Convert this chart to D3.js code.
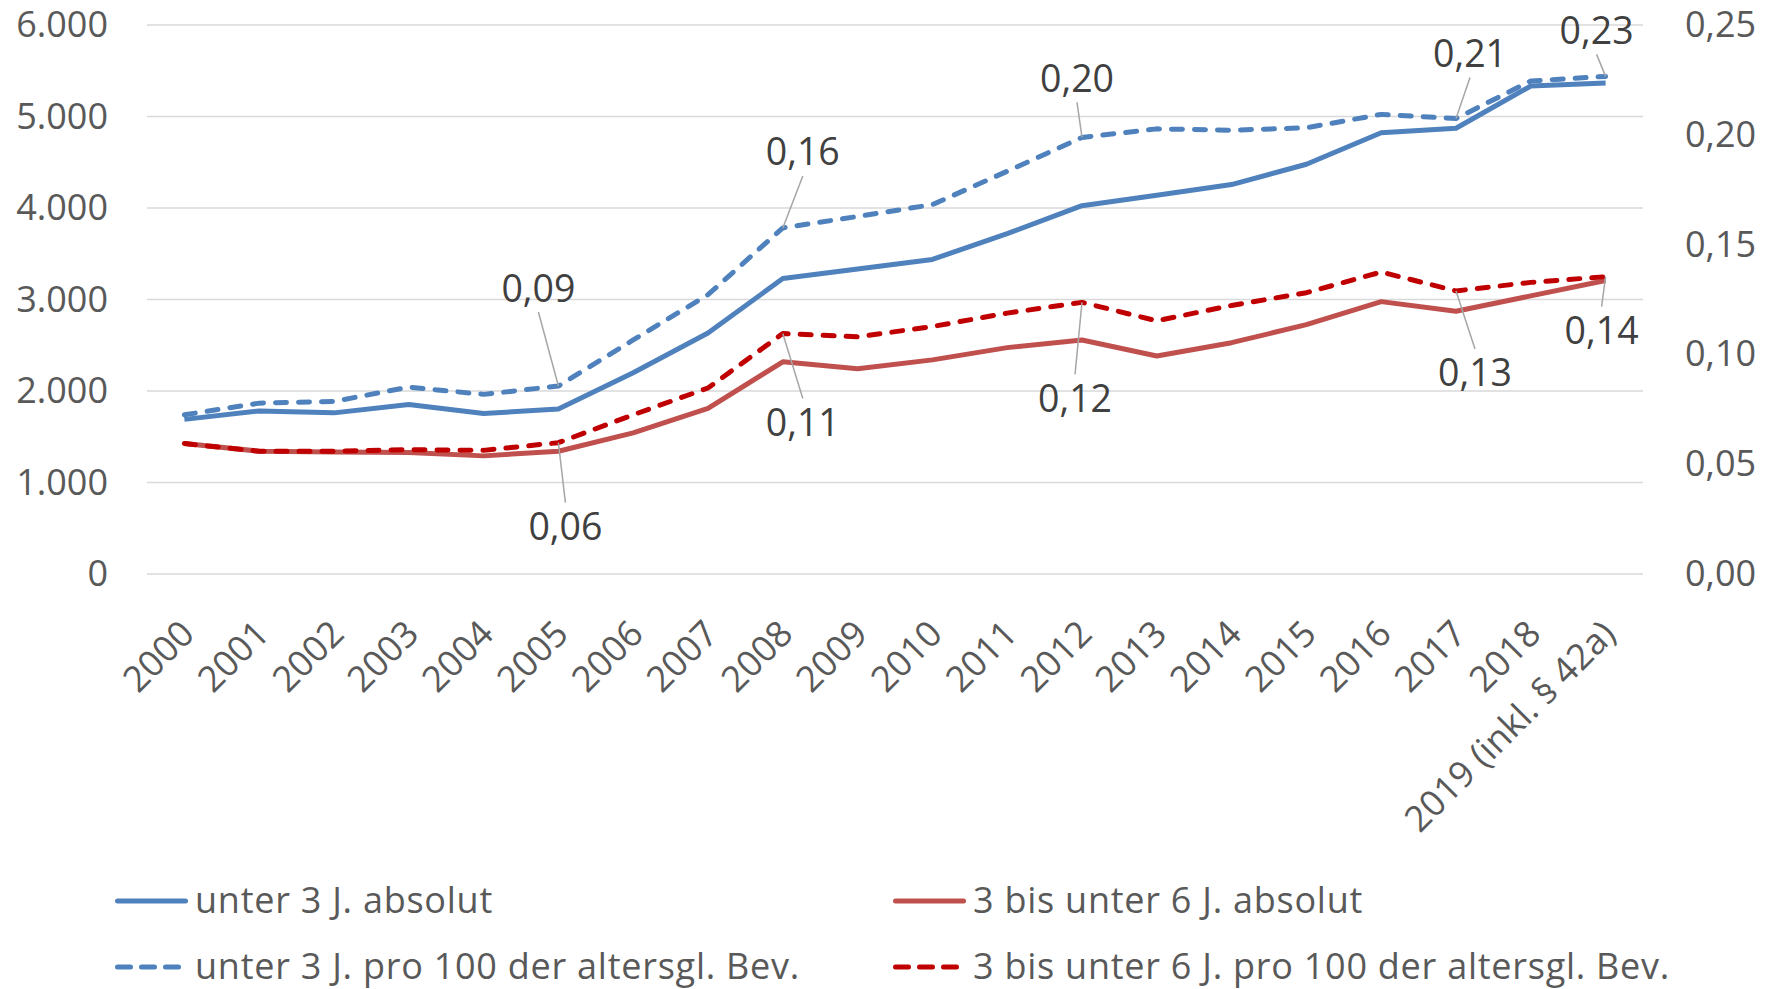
<!DOCTYPE html>
<html>
<head>
<meta charset="utf-8">
<script src="https://cdn.jsdelivr.net/npm/d3@7"></script>
<style>
  body { margin: 0; background: #fff; }
  svg { display: block; font-family: "Open Sans", sans-serif; }
</style>
</head>
<body>
<div id="chart"></div>
<script>
// categories
const years = ["2000", "2001", "2002", "2003", "2004", "2005", "2006", "2007", "2008", "2009",
  "2010", "2011", "2012", "2013", "2014", "2015", "2016", "2017", "2018", "2019 (inkl. § 42a)"];

// absolute counts (left axis)
const under3Abs = [1690, 1782, 1761, 1853, 1753, 1803, 2200, 2633, 3229, 3333,
  3438, 3720, 4025, 4140, 4256, 4478, 4822, 4872, 5333, 5367];
const age3to6Abs = [1426, 1342, 1333, 1329, 1291, 1342, 1543, 1811, 2319, 2243,
  2340, 2474, 2558, 2382, 2528, 2725, 2977, 2872, 3040, 3208];

// per 100 of same-age population (right axis)
const under3Rate = [0.0725, 0.0778, 0.0786, 0.0851, 0.0818, 0.0856, 0.1066, 0.1272, 0.1576, 0.1628,
  0.1682, 0.1834, 0.1988, 0.2027, 0.2021, 0.2032, 0.2093, 0.2074, 0.2245, 0.2266];
const age3to6Rate = [0.0594, 0.0559, 0.0559, 0.0566, 0.0563, 0.0598, 0.0725, 0.0847, 0.1095, 0.1080,
  0.1127, 0.1188, 0.1237, 0.1153, 0.1223, 0.1281, 0.1375, 0.1289, 0.1328, 0.1354];

const leftTicks = [0, 1000, 2000, 3000, 4000, 5000, 6000];
const rightTicks = [0, 0.05, 0.1, 0.15, 0.2, 0.25];

const width = 1777;
const height = 989;
const plot = { left: 147, right: 1643, top: 25, bottom: 574 };

const svg = d3.select("#chart")
  .append("svg")
  .attr("width", width)
  .attr("height", height);

const x = d3.scaleBand().domain(years).range([plot.left, plot.right]);
const xc = (i) => x(years[i]) + x.bandwidth() / 2;
const yLeft = d3.scaleLinear().domain([0, 6000]).range([plot.bottom, plot.top]);
const yRight = d3.scaleLinear().domain([0, 0.25]).range([plot.bottom, plot.top]);

// gridlines
svg.append("g")
  .selectAll("line")
  .data(leftTicks)
  .join("line")
  .attr("x1", plot.left)
  .attr("x2", plot.right)
  .attr("y1", (d) => yLeft(d))
  .attr("y2", (d) => yLeft(d))
  .attr("stroke", "#d9d9d9")
  .attr("stroke-width", 1.5);

// left axis
const leftAxis = svg.append("g")
  .attr("transform", `translate(${plot.left},0)`)
  .call(d3.axisLeft(yLeft).tickValues(leftTicks).tickSize(0).tickPadding(39)
    .tickFormat((d) => d3.format(",")(d).replace(/,/g, ".")));
leftAxis.select(".domain").remove();
leftAxis.selectAll("text")
  .attr("font-size", 36)
  .attr("font-family", "Open Sans")
  .attr("fill", "#595959");

// right axis
const rightAxis = svg.append("g")
  .attr("transform", `translate(${plot.right},0)`)
  .call(d3.axisRight(yRight).tickValues(rightTicks).tickSize(0).tickPadding(42)
    .tickFormat((d) => d3.format(".2f")(d).replace(".", ",")));
rightAxis.select(".domain").remove();
rightAxis.selectAll("text")
  .attr("font-size", 36)
  .attr("font-family", "Open Sans")
  .attr("fill", "#595959");

// x axis labels, rotated
svg.append("g")
  .selectAll("text")
  .data(years)
  .join("text")
  .attr("transform", (d, i) => `translate(${xc(i) + 12},${plot.bottom + 62}) rotate(-45)`)
  .attr("text-anchor", "end")
  .attr("font-size", 36)
  .attr("fill", "#595959")
  .text((d) => d);

// series
const series = [
  { name: "unter 3 J. absolut", values: under3Abs, y: yLeft, color: "#4f81bd", dash: null },
  { name: "3 bis unter 6 J. absolut", values: age3to6Abs, y: yLeft, color: "#c0504d", dash: null },
  { name: "unter 3 J. pro 100 der altersgl. Bev.", values: under3Rate, y: yRight, color: "#4f81bd", dash: "11 12" },
  { name: "3 bis unter 6 J. pro 100 der altersgl. Bev.", values: age3to6Rate, y: yRight, color: "#c00000", dash: "11 12" },
];

svg.append("g")
  .selectAll("path")
  .data(series)
  .join("path")
  .attr("fill", "none")
  .attr("stroke", (d) => d.color)
  .attr("stroke-width", 5)
  .attr("stroke-linecap", (d) => (d.dash ? "round" : "butt"))
  .attr("stroke-linejoin", "round")
  .attr("stroke-dasharray", (d) => d.dash)
  .attr("d", (d) => d3.line().x((v, i) => xc(i)).y((v) => d.y(v))(d.values));

// data labels with leader lines (offsets are label placement only)
const annotations = [
  { s: 2, i: 5, dx: -20, dy: -98 },
  { s: 3, i: 5, dx: 7, dy: 84 },
  { s: 2, i: 8, dx: 20, dy: -76 },
  { s: 3, i: 8, dx: 20, dy: 89 },
  { s: 2, i: 12, dx: -5, dy: -59 },
  { s: 3, i: 12, dx: -7, dy: 96 },
  { s: 2, i: 17, dx: 14, dy: -65 },
  { s: 3, i: 17, dx: 19, dy: 82 },
  { s: 2, i: 19, dx: -9, dy: -46 },
  { s: 3, i: 19, dx: -4, dy: 54 },
];

const ann = svg.append("g");
annotations.forEach((a) => {
  const s = series[a.s];
  const px = xc(a.i);
  const py = s.y(s.values[a.i]);
  const lx = px + a.dx;
  const ly = py + a.dy;
  const edge = a.dy < 0 ? ly + 24 : ly - 24;
  ann.append("line")
    .attr("x1", px)
    .attr("y1", py)
    .attr("x2", lx)
    .attr("y2", edge)
    .attr("stroke", "#a6a6a6")
    .attr("stroke-width", 1.5);
  ann.append("text")
    .attr("x", lx)
    .attr("y", ly)
    .attr("dy", "0.36em")
    .attr("text-anchor", "middle")
    .attr("font-size", 37.5)
    .attr("fill", "#404040")
    .text(d3.format(".2f")(s.values[a.i]).replace(".", ","));
});

// legend
const legendPos = [
  { x: 115, y: 901 },
  { x: 893, y: 901 },
  { x: 115, y: 967 },
  { x: 893, y: 967 },
];
const legend = svg.append("g")
  .selectAll("g")
  .data(series)
  .join("g")
  .attr("transform", (d, i) => `translate(${legendPos[i].x},${legendPos[i].y})`);

legend.append("line")
  .attr("x1", 2.5)
  .attr("x2", (d) => (d.dash ? 64 : 70.5))
  .attr("stroke", (d) => d.color)
  .attr("stroke-width", 5)
  .attr("stroke-linecap", "round")
  .attr("stroke-dasharray", (d) => (d.dash ? "13 11" : null));

legend.append("text")
  .attr("x", 80)
  .attr("y", 12)
  .attr("font-size", 36)
  .attr("letter-spacing", 0.75)
  .attr("fill", "#595959")
  .text((d) => d.name);
</script>
</body>
</html>
